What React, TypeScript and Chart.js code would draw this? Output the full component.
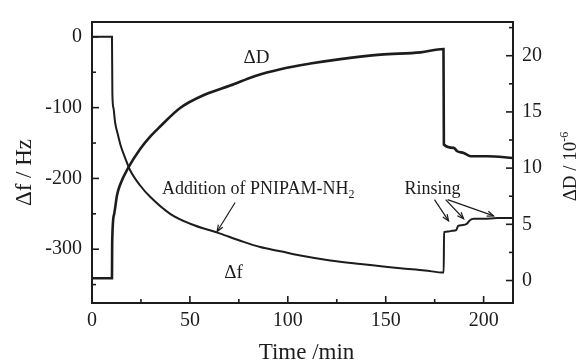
import { useEffect, useRef } from "react";
import { Chart, registerables } from "chart.js";

Chart.register(...registerables);

// Frequency shift Δf (Hz) against time (min)
const freqTime = [
  0, 10.2, 10.4, 11.0, 11.8, 13.3, 14.8, 16.9, 19.4, 24.6, 29.7, 39.9, 50.1,
  65.5, 75.7, 85.9, 96.2, 106.4, 121.7, 137.1, 157.5, 170, 179.6, 179.8, 182,
  184, 186, 187, 189, 191.5, 193, 195, 200, 207, 215,
];
const freqShift = [
  0, 0, -80, -101, -121, -139, -155, -171, -188, -210, -226, -250, -264,
  -278, -288, -297, -303, -309, -316, -321, -327, -330, -333, -276, -275,
  -274, -273, -267, -266, -264, -259, -257, -257, -256, -256,
];

// Dissipation shift ΔD (10^-6) against time (min)
const dissTime = [
  0, 10.2, 10.3, 11.3, 12.8, 14.3, 18.4, 24.6, 29.7, 34.8, 45.0, 57.8, 70.6,
  83.4, 96.2, 111.5, 126.9, 147.3, 167.8, 179.5, 179.7, 184.7, 186.5, 189.8,
  193.4, 201.9, 215,
];
const dissShift = [
  0.2, 0.2, 3.3, 5.9, 7.6, 8.5, 10.0, 11.7, 12.8, 13.7, 15.35, 16.55, 17.35,
  18.2, 18.8, 19.3, 19.7, 20.1, 20.3, 20.6, 12.1, 11.8, 11.5, 11.35, 11.06,
  11.06, 10.9,
];

// Axis ticks
const timeTicks = [0, 50, 100, 150, 200];
const timeMinor = [25, 75, 125, 175];
const freqTicks = [-300, -200, -100, 0];
const freqMinor = [-350, -250, -150, -50];
const dissTicks = [0, 5, 10, 15, 20];
const dissMinor = [2.5, 7.5, 12.5, 17.5, 22.5];

const SERIF = "'Liberation Serif', 'Times New Roman', serif";
const INK = "#1c1c1c";

type Ctx = CanvasRenderingContext2D;

function drawArrow(ctx: Ctx, x1: number, y1: number, x2: number, y2: number) {
  ctx.beginPath();
  ctx.moveTo(x1, y1);
  ctx.lineTo(x2, y2);
  ctx.stroke();
  const a = Math.atan2(y2 - y1, x2 - x1);
  const len = 7;
  const spread = 0.38;
  ctx.beginPath();
  ctx.moveTo(x2 - len * Math.cos(a - spread), y2 - len * Math.sin(a - spread));
  ctx.lineTo(x2, y2);
  ctx.lineTo(x2 - len * Math.cos(a + spread), y2 - len * Math.sin(a + spread));
  ctx.stroke();
}

const framePlugin = {
  id: "qcmFrame",
  afterDraw(chart: any) {
    const { ctx, chartArea } = chart;
    const { left, right, top, bottom } = chartArea;
    const x = chart.scales.x;
    const yF = chart.scales.yF;
    const yD = chart.scales.yD;
    ctx.save();
    ctx.strokeStyle = INK;
    ctx.fillStyle = INK;

    // box
    ctx.lineWidth = 2;
    ctx.strokeRect(left, top, right - left, bottom - top);

    // inward ticks
    ctx.lineWidth = 1.6;
    const tick = (x1: number, y1: number, x2: number, y2: number) => {
      ctx.beginPath();
      ctx.moveTo(x1, y1);
      ctx.lineTo(x2, y2);
      ctx.stroke();
    };
    timeTicks.forEach((v) => { const px = x.getPixelForValue(v); tick(px, bottom, px, bottom - 7); });
    timeMinor.forEach((v) => { const px = x.getPixelForValue(v); tick(px, bottom, px, bottom - 4); });
    freqTicks.forEach((v) => { const py = yF.getPixelForValue(v); tick(left, py, left + 7, py); });
    freqMinor.forEach((v) => { const py = yF.getPixelForValue(v); tick(left, py, left + 4, py); });
    dissTicks.forEach((v) => { const py = yD.getPixelForValue(v); tick(right, py, right - 7, py); });
    dissMinor.forEach((v) => { const py = yD.getPixelForValue(v); tick(right, py, right - 4, py); });

    // axis titles
    ctx.textAlign = "center";
    ctx.textBaseline = "alphabetic";
    ctx.font = `23px ${SERIF}`;
    ctx.fillText("Time /min", (left + right) / 2 + 4, 359);

    ctx.save();
    ctx.translate(31, (top + bottom) / 2 + 10);
    ctx.rotate(-Math.PI / 2);
    ctx.fillText("Δf / Hz", 0, 0);
    ctx.restore();

    ctx.save();
    ctx.translate(576, (top + bottom) / 2 + 4);
    ctx.rotate(-Math.PI / 2);
    ctx.font = `19px ${SERIF}`;
    const main = "ΔD / 10";
    const wMain = ctx.measureText(main).width;
    ctx.font = `12px ${SERIF}`;
    const sup = "-6";
    const wSup = ctx.measureText(sup).width;
    const startX = -(wMain + wSup) / 2;
    ctx.textAlign = "left";
    ctx.font = `19px ${SERIF}`;
    ctx.fillText(main, startX, 0);
    ctx.font = `12px ${SERIF}`;
    ctx.fillText(sup, startX + wMain, -8);
    ctx.restore();

    // curve labels
    ctx.font = `19px ${SERIF}`;
    ctx.textAlign = "center";
    ctx.textBaseline = "middle";
    ctx.fillText("ΔD", x.getPixelForValue(84), yD.getPixelForValue(19.8));
    ctx.fillText("Δf", x.getPixelForValue(72.3), yF.getPixelForValue(-334));

    // addition annotation
    ctx.textAlign = "left";
    ctx.font = `18px ${SERIF}`;
    const addX = x.getPixelForValue(35.8);
    const addY = yF.getPixelForValue(-216);
    const addText = "Addition of PNIPAM-NH";
    ctx.fillText(addText, addX, addY);
    const addW = ctx.measureText(addText).width;
    ctx.font = `12px ${SERIF}`;
    ctx.fillText("2", addX + addW, addY + 5);

    ctx.lineWidth = 1.2;
    drawArrow(
      ctx,
      x.getPixelForValue(73.1), yF.getPixelForValue(-234),
      x.getPixelForValue(63.9), yF.getPixelForValue(-275)
    );

    // rinsing annotation
    ctx.font = `18px ${SERIF}`;
    ctx.fillText("Rinsing", x.getPixelForValue(159.6), yF.getPixelForValue(-215));
    const rinseFrom = [[174.9, -230], [180.6, -230], [181.6, -230]];
    const rinseTo = [[182.1, -260], [189.8, -257], [205.1, -253]];
    rinseFrom.forEach((f, i) => {
      drawArrow(
        ctx,
        x.getPixelForValue(f[0]), yF.getPixelForValue(f[1]),
        x.getPixelForValue(rinseTo[i][0]), yF.getPixelForValue(rinseTo[i][1])
      );
    });

    ctx.restore();
  },
};

export default function App() {
  const canvasRef = useRef<HTMLCanvasElement | null>(null);

  useEffect(() => {
    const canvas = canvasRef.current;
    if (!canvas) return;
    const tickFont = { family: SERIF, size: 20 };
    const chart = new Chart(canvas, {
      type: "line",
      data: {
        datasets: [
          {
            label: "Δf",
            data: freqTime.map((t, i) => ({ x: t, y: freqShift[i] })),
            yAxisID: "yF",
            borderColor: INK,
            borderWidth: 2,
            pointRadius: 0,
            cubicInterpolationMode: "monotone",
          },
          {
            label: "ΔD",
            data: dissTime.map((t, i) => ({ x: t, y: dissShift[i] })),
            yAxisID: "yD",
            borderColor: INK,
            borderWidth: 2.6,
            pointRadius: 0,
            cubicInterpolationMode: "monotone",
          },
        ],
      },
      options: {
        responsive: false,
        animation: false,
        devicePixelRatio: 1,
        layout: { padding: { top: 11, left: 0, right: 0, bottom: 0 } },
        plugins: { legend: { display: false }, tooltip: { enabled: false } },
        scales: {
          x: {
            type: "linear",
            position: "bottom",
            min: 0,
            max: 215,
            grid: { display: false, drawTicks: false },
            border: { display: false },
            ticks: { font: tickFont, color: INK, padding: 6, maxRotation: 0, autoSkip: false },
            afterBuildTicks: (s: any) => { s.ticks = timeTicks.map((v) => ({ value: v })); },
            afterFit: (s: any) => { s.height = 61; },
          },
          yF: {
            type: "linear",
            position: "left",
            min: -376,
            max: 21,
            grid: { display: false, drawTicks: false },
            border: { display: false },
            ticks: { font: tickFont, color: INK, padding: 10 },
            afterBuildTicks: (s: any) => { s.ticks = freqTicks.map((v) => ({ value: v })); },
            afterFit: (s: any) => { s.width = 92; },
          },
          yD: {
            type: "linear",
            position: "right",
            min: -2,
            max: 23,
            grid: { display: false, drawTicks: false },
            border: { display: false },
            ticks: { font: tickFont, color: INK, padding: 9 },
            afterBuildTicks: (s: any) => { s.ticks = dissTicks.map((v) => ({ value: v })); },
            afterFit: (s: any) => { s.width = 65; },
          },
        },
      } as any,
      plugins: [framePlugin],
    });
    return () => chart.destroy();
  }, []);

  return (
    <div style={{ position: "fixed", left: 0, top: 0, width: 578, height: 364, background: "#fff" }}>
      <canvas ref={canvasRef} width={578} height={364} />
    </div>
  );
}
